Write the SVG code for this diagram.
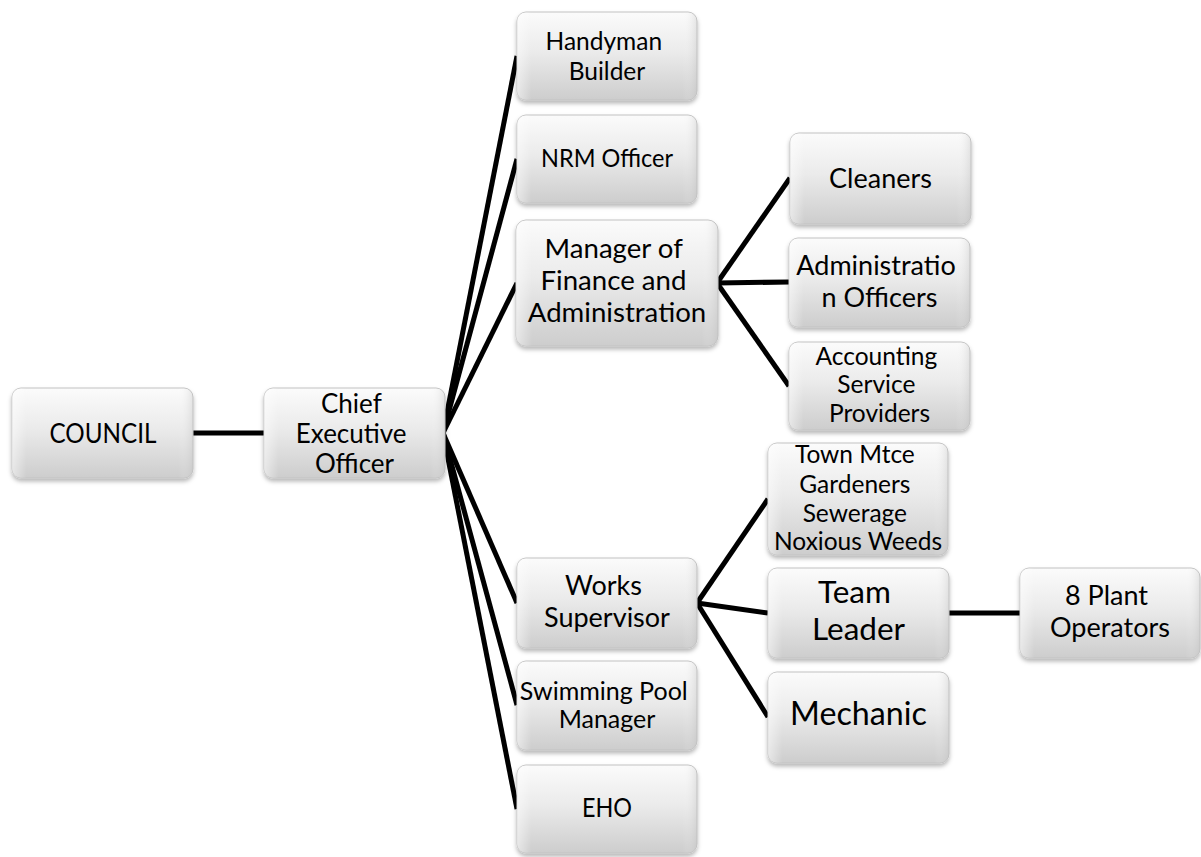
<svg xmlns="http://www.w3.org/2000/svg" width="1201" height="857" viewBox="0 0 1201 857">
  <defs>
    <linearGradient id="boxFill" x1="0" y1="0" x2="0" y2="1">
      <stop offset="0" stop-color="#fbfbfb"/>
      <stop offset="0.45" stop-color="#ebebeb"/>
      <stop offset="1" stop-color="#cdcdcd"/>
    </linearGradient>
    <linearGradient id="sideShade" x1="0" y1="0" x2="1" y2="0">
      <stop offset="0" stop-color="#ffffff" stop-opacity="0.5"/>
      <stop offset="0.08" stop-color="#ffffff" stop-opacity="0"/>
      <stop offset="0.92" stop-color="#ffffff" stop-opacity="0"/>
      <stop offset="1" stop-color="#bdbdbd" stop-opacity="0.35"/>
    </linearGradient>
    <filter id="drop" x="-10%" y="-10%" width="120%" height="130%">
      <feDropShadow dx="0" dy="3" stdDeviation="2.2" flood-color="#000" flood-opacity="0.28"/>
    </filter>
  </defs>
  <style>
    .box { fill: url(#boxFill); stroke: #c2c2c2; stroke-width: 1; filter: url(#drop); }
    .shade { fill: url(#sideShade); stroke: none; }
    .lbl { font-family: Lato, "Liberation Sans", sans-serif; fill: #000; text-anchor: middle; }
    .link { stroke: #000; stroke-width: 5; fill: none; stroke-linecap: butt; }
  </style>

  <rect width="1201" height="857" fill="#fff"/>

  <!-- reporting lines -->
  <g id="connectors">
    <line class="link" x1="193" y1="433" x2="264" y2="433"/>
    <line class="link" x1="443" y1="433" x2="517" y2="56"/>
    <line class="link" x1="443" y1="433" x2="517" y2="159"/>
    <line class="link" x1="443" y1="433" x2="517" y2="283"/>
    <line class="link" x1="443" y1="433" x2="517" y2="603"/>
    <line class="link" x1="443" y1="433" x2="517" y2="705"/>
    <line class="link" x1="443" y1="433" x2="517" y2="809"/>
    <line class="link" x1="717" y1="283" x2="790" y2="178"/>
    <line class="link" x1="717" y1="283" x2="789" y2="282"/>
    <line class="link" x1="717" y1="283" x2="789" y2="386"/>
    <line class="link" x1="697" y1="603" x2="768" y2="499"/>
    <line class="link" x1="697" y1="603" x2="768" y2="613"/>
    <line class="link" x1="697" y1="603" x2="768" y2="717"/>
    <line class="link" x1="949" y1="613" x2="1020" y2="613"/>
  </g>

  <g id="council">
    <rect class="box" x="12" y="388" width="181" height="90" rx="9"/>
    <rect class="shade" x="12" y="388" width="181" height="90" rx="9"/>
    <text class="lbl" x="103" y="443" font-size="27" textLength="107" lengthAdjust="spacingAndGlyphs">COUNCIL</text>
  </g>

  <g id="ceo">
    <rect class="box" x="264" y="388" width="181" height="90" rx="9"/>
    <rect class="shade" x="264" y="388" width="181" height="90" rx="9"/>
    <text class="lbl" font-size="26">
      <tspan x="354.5" y="413">Chief</tspan>
      <tspan x="354.5" y="443">Executive</tspan>
      <tspan x="354.5" y="473">Officer</tspan>
    </text>
  </g>

  <g id="handyman">
    <rect class="box" x="517" y="12" width="180" height="88" rx="9"/>
    <rect class="shade" x="517" y="12" width="180" height="88" rx="9"/>
    <text class="lbl" font-size="24.5">
      <tspan x="607" y="50">Handyman</tspan>
      <tspan x="607" y="80">Builder</tspan>
    </text>
  </g>

  <g id="nrm">
    <rect class="box" x="517" y="115" width="180" height="88" rx="9"/>
    <rect class="shade" x="517" y="115" width="180" height="88" rx="9"/>
    <text class="lbl" x="607" y="167" font-size="25" textLength="132" lengthAdjust="spacingAndGlyphs">NRM Officer</text>
  </g>

  <g id="manager">
    <rect class="box" x="516" y="220" width="202" height="126" rx="10"/>
    <rect class="shade" x="516" y="220" width="202" height="126" rx="10"/>
    <text class="lbl" font-size="27.6">
      <tspan x="617" y="258">Manager of</tspan>
      <tspan x="617" y="290">Finance and</tspan>
      <tspan x="617" y="322">Administration</tspan>
    </text>
  </g>

  <g id="works">
    <rect class="box" x="517" y="558" width="180" height="90" rx="9"/>
    <rect class="shade" x="517" y="558" width="180" height="90" rx="9"/>
    <text class="lbl" font-size="27">
      <tspan x="607" y="595">Works</tspan>
      <tspan x="607" y="627">Supervisor</tspan>
    </text>
  </g>

  <g id="pool">
    <rect class="box" x="517" y="661" width="180" height="89" rx="9"/>
    <rect class="shade" x="517" y="661" width="180" height="89" rx="9"/>
    <text class="lbl" font-size="25">
      <tspan x="607" y="700">Swimming Pool</tspan>
      <tspan x="607" y="728">Manager</tspan>
    </text>
  </g>

  <g id="eho">
    <rect class="box" x="517" y="765" width="180" height="88" rx="9"/>
    <rect class="shade" x="517" y="765" width="180" height="88" rx="9"/>
    <text class="lbl" x="607" y="817" font-size="26.5" textLength="50" lengthAdjust="spacingAndGlyphs">EHO</text>
  </g>

  <g id="cleaners">
    <rect class="box" x="790" y="133" width="181" height="91" rx="9"/>
    <rect class="shade" x="790" y="133" width="181" height="91" rx="9"/>
    <text class="lbl" x="880.5" y="188" font-size="27">Cleaners</text>
  </g>

  <g id="admin-officers">
    <rect class="box" x="789" y="238" width="181" height="89" rx="9"/>
    <rect class="shade" x="789" y="238" width="181" height="89" rx="9"/>
    <text class="lbl" font-size="27">
      <tspan x="879.5" y="275">Administratio</tspan>
      <tspan x="879.5" y="307">n Officers</tspan>
    </text>
  </g>

  <g id="accounting">
    <rect class="box" x="789" y="342" width="181" height="88" rx="9"/>
    <rect class="shade" x="789" y="342" width="181" height="88" rx="9"/>
    <text class="lbl" font-size="24.5">
      <tspan x="879.5" y="365">Accounting</tspan>
      <tspan x="879.5" y="393">Service</tspan>
      <tspan x="879.5" y="422">Providers</tspan>
    </text>
  </g>

  <g id="town-maintenance">
    <rect class="box" x="768" y="443" width="180" height="112" rx="9"/>
    <rect class="shade" x="768" y="443" width="180" height="112" rx="9"/>
    <text class="lbl" font-size="24.5">
      <tspan x="858" y="463">Town Mtce</tspan>
      <tspan x="858" y="493">Gardeners</tspan>
      <tspan x="858" y="522">Sewerage</tspan>
      <tspan x="858" y="550">Noxious Weeds</tspan>
    </text>
  </g>

  <g id="team-leader">
    <rect class="box" x="768" y="568" width="181" height="90" rx="9"/>
    <rect class="shade" x="768" y="568" width="181" height="90" rx="9"/>
    <text class="lbl" font-size="31.5">
      <tspan x="858.5" y="603">Team</tspan>
      <tspan x="858.5" y="640">Leader</tspan>
    </text>
  </g>

  <g id="mechanic">
    <rect class="box" x="768" y="672" width="181" height="91" rx="9"/>
    <rect class="shade" x="768" y="672" width="181" height="91" rx="9"/>
    <text class="lbl" x="858.5" y="725" font-size="32.2">Mechanic</text>
  </g>

  <g id="plant-operators">
    <rect class="box" x="1020" y="568" width="180" height="90" rx="9"/>
    <rect class="shade" x="1020" y="568" width="180" height="90" rx="9"/>
    <text class="lbl" font-size="27">
      <tspan x="1110" y="605">8 Plant</tspan>
      <tspan x="1110" y="637">Operators</tspan>
    </text>
  </g>
</svg>
